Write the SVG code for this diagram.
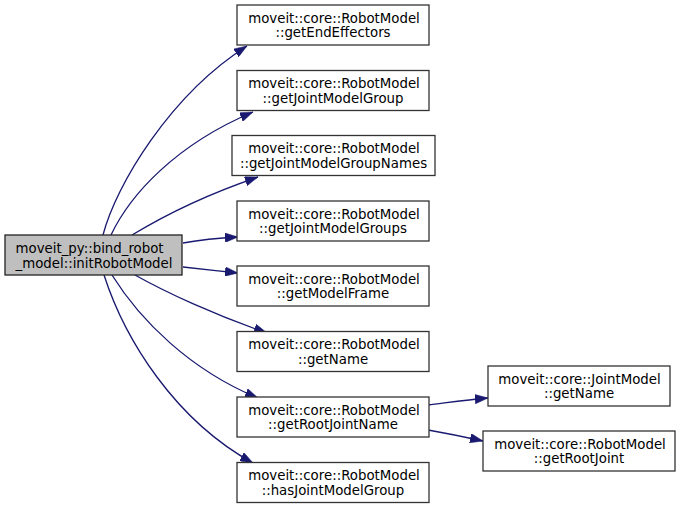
<svg xmlns="http://www.w3.org/2000/svg" width="680" height="509" viewBox="0 0 680 509">
<style>
.node rect{fill:#ffffff;stroke:#333333;stroke-width:1.3}
#root rect{fill:#bfbfbf;stroke:#222222}
text{font-family:"DejaVu Sans",sans-serif;font-size:13.33px;fill:#000000}
.c{text-anchor:middle}
.edges path{fill:none;stroke:#191970;stroke-width:1.33}
</style>
<defs>
<marker id="ah" markerUnits="userSpaceOnUse" viewBox="0 0 13 9.4" refX="13" refY="4.7" markerWidth="13" markerHeight="9.4" orient="auto">
<path d="M0,0 L13,4.7 L0,9.4 z" fill="#191970" stroke="#191970" stroke-width="0.5"/>
</marker>
</defs>
<g class="edges">
<path d="M103,235 C116,185 170,95 247,46" marker-end="url(#ah)"/>
<path d="M111,235 C130,195 175,145 253,112" marker-end="url(#ah)"/>
<path d="M132,235 C160,218 205,195 258,177" marker-end="url(#ah)"/>
<path d="M183,243 C200,240 220,238 238,237" marker-end="url(#ah)"/>
<path d="M183,267 C200,269 220,271 238,273" marker-end="url(#ah)"/>
<path d="M135,275 C165,292 215,315 267,333" marker-end="url(#ah)"/>
<path d="M112,275 C140,320 190,370 258,398" marker-end="url(#ah)"/>
<path d="M104,275 C125,340 175,420 253,463" marker-end="url(#ah)"/>
<path d="M428,405 C445,403 465,400 488,398" marker-end="url(#ah)"/>
<path d="M428,430 C445,433 465,437 483,441" marker-end="url(#ah)"/>
</g>
<g id="root" class="node"><rect x="5" y="235" width="177" height="40"/><text x="15.5" y="253">moveit_py::bind_robot</text><text x="15.5" y="267.5">_model::initRobotModel</text></g>
<g id="n1" class="node"><rect x="237" y="5" width="192" height="40"/><text class="c" x="334" y="22.5">moveit::core::RobotModel</text><text class="c" x="333" y="37">::getEndEffectors</text></g>
<g id="n2" class="node"><rect x="237" y="70.5" width="192" height="40"/><text class="c" x="334" y="88">moveit::core::RobotModel</text><text class="c" x="333" y="102.5">::getJointModelGroup</text></g>
<g id="n3" class="node"><rect x="232" y="135.5" width="203" height="40"/><text class="c" x="334" y="153">moveit::core::RobotModel</text><text class="c" x="333.5" y="167.5">::getJointModelGroupNames</text></g>
<g id="n4" class="node"><rect x="237" y="201" width="192" height="40"/><text class="c" x="334" y="218.5">moveit::core::RobotModel</text><text class="c" x="333" y="233">::getJointModelGroups</text></g>
<g id="n5" class="node"><rect x="237" y="266" width="192" height="40"/><text class="c" x="334" y="283.5">moveit::core::RobotModel</text><text class="c" x="333" y="298">::getModelFrame</text></g>
<g id="n6" class="node"><rect x="237" y="331.5" width="192" height="40"/><text class="c" x="334" y="349">moveit::core::RobotModel</text><text class="c" x="333" y="363.5">::getName</text></g>
<g id="n7" class="node"><rect x="237" y="397" width="192" height="40"/><text class="c" x="334" y="414.5">moveit::core::RobotModel</text><text class="c" x="333" y="429">::getRootJointName</text></g>
<g id="n8" class="node"><rect x="237" y="462.5" width="192" height="40"/><text class="c" x="334" y="480">moveit::core::RobotModel</text><text class="c" x="333" y="494.5">::hasJointModelGroup</text></g>
<g id="n9" class="node"><rect x="488" y="366" width="182" height="40"/><text class="c" x="579.5" y="383.5">moveit::core::JointModel</text><text class="c" x="579" y="398">::getName</text></g>
<g id="n10" class="node"><rect x="483" y="431" width="192" height="40"/><text class="c" x="580" y="448.5">moveit::core::RobotModel</text><text class="c" x="579" y="463">::getRootJoint</text></g>
</svg>
